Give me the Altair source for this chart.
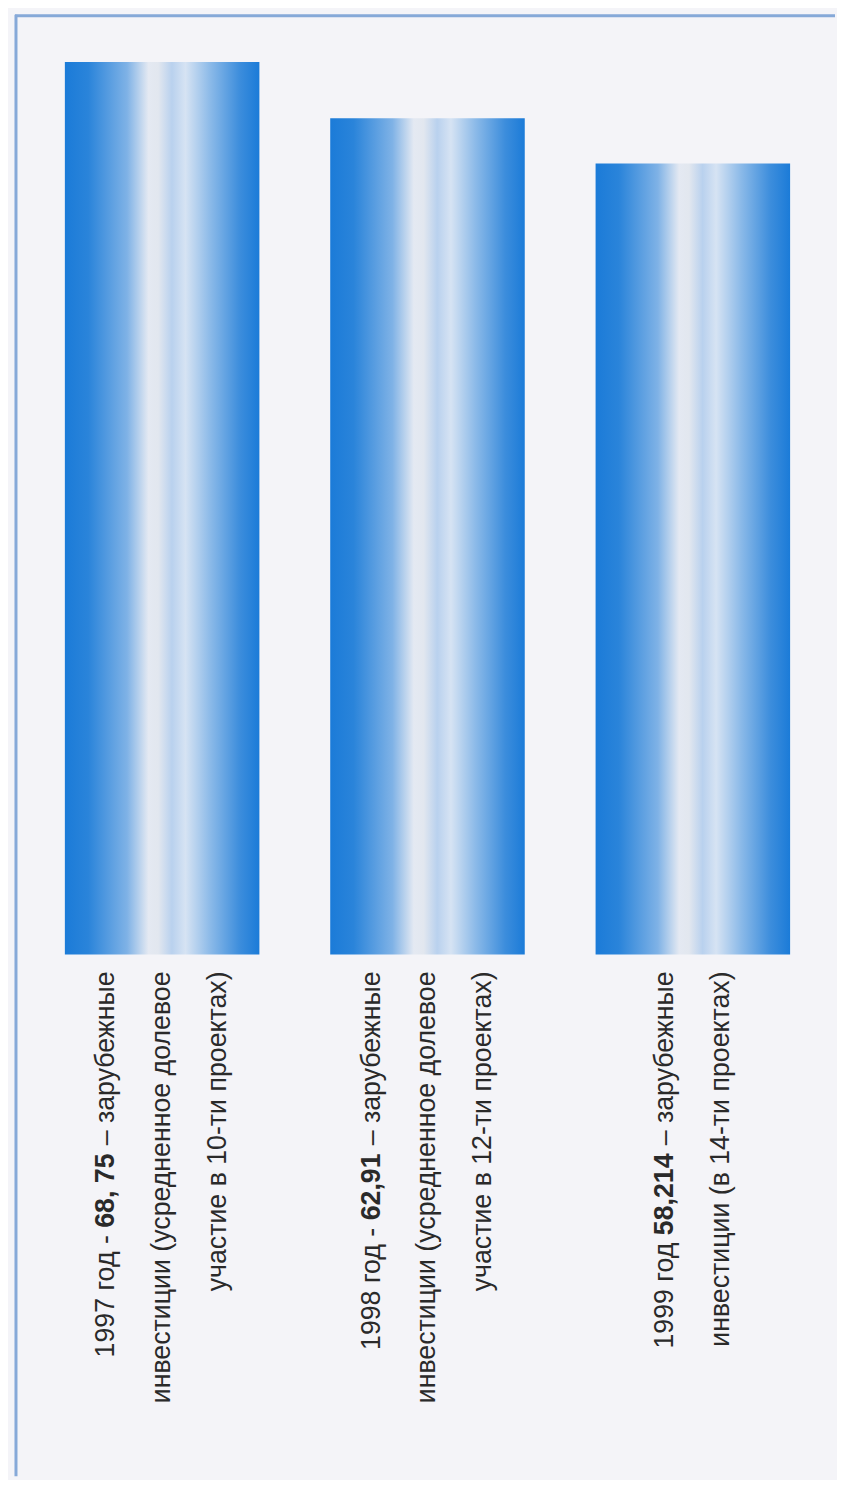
import altair as alt
import pandas as pd

# ---- data ----
years = ["1997", "1998", "1999"]
values = [68.75, 62.91, 58.214]
value_labels = ["68, 75", "62,91", "58,214"]
line1_prefix = ["1997 год -", "1998 год -", "1999 год"]
line1_suffix = ["– зарубежные", "– зарубежные", "– зарубежные"]
rest_lines = [
    ["инвестиции (усредненное долевое", "участие в 10-ти проектах)"],
    ["инвестиции (усредненное долевое", "участие в 12-ти проектах)"],
    ["инвестиции (в 14-ти проектах)"],
]

# ---- style ----
FONT = "Liberation Sans"
FS = 26.8
TEXT_COLOR = "#2a2a2a"
FRAME = "#86a9d8"
BG = "#f4f4f8"
W_TOTAL, H_TOTAL = 829, 1470
TEXT_TOP = 964
BAR_W = 195

# approximate Arial advance widths (1/1000 em)
ADV = {" ": 278, ",": 278, "-": 333, "–": 556, "(": 333, ")": 333,
       "а": 556, "б": 573, "в": 531, "г": 365, "д": 583, "е": 556, "ж": 669,
       "з": 458, "и": 559, "й": 559, "к": 438, "л": 583, "м": 688, "н": 552,
       "о": 556, "п": 542, "р": 556, "с": 500, "т": 458, "у": 500, "ф": 823,
       "х": 500, "ц": 573, "ч": 521, "ш": 802, "щ": 823, "ы": 719, "ь": 521}


def text_width(s):
    return sum(ADV.get(c, 556) for c in s) / 1000.0 * FS


SPACE = text_width(" ")

bars_df = pd.DataFrame({"year": years, "value": values})

rows = []
for i, y in enumerate(years):
    n = 1 + len(rest_lines[i])
    pos = [k - (n - 1) / 2 for k in range(n)]
    w_suf = text_width(line1_suffix[i]) + SPACE
    w_num = text_width(value_labels[i]) + SPACE
    rows.append(dict(year=y, line=pos[0], along=0, text=line1_suffix[i], bold=0))
    rows.append(dict(year=y, line=pos[0], along=w_suf, text=value_labels[i], bold=1))
    rows.append(dict(year=y, line=pos[0], along=w_suf + w_num, text=line1_prefix[i], bold=0))
    for k, t in enumerate(rest_lines[i]):
        rows.append(dict(year=y, line=pos[k + 1], along=0, text=t, bold=0))
text_df = pd.DataFrame(rows)
text_df["ypx"] = TEXT_TOP + text_df["along"]

xscale = alt.Scale(domain=years, range=[21.5, 819.5], paddingInner=0.267, paddingOuter=0.1335)
yscale = alt.Scale(domain=[-24, 70], range=[947, 40.3], zero=False, nice=False)
offscale = alt.Scale(domain=[-1, 1], range=[41.5, 153.5])

grad = alt.Gradient(
    gradient="linear", x1=0, x2=1, y1=0, y2=0,
    stops=[
        alt.GradientStop(offset=0.0, color="#1b7bd8"),
        alt.GradientStop(offset=0.12, color="#2a84da"),
        alt.GradientStop(offset=0.32, color="#7fb2e6"),
        alt.GradientStop(offset=0.43, color="#e4e9f2"),
        alt.GradientStop(offset=0.48, color="#e2e7ef"),
        alt.GradientStop(offset=0.55, color="#b9d1ee"),
        alt.GradientStop(offset=0.62, color="#d6e3f3"),
        alt.GradientStop(offset=0.75, color="#8ab9e8"),
        alt.GradientStop(offset=0.9, color="#3c8ddc"),
        alt.GradientStop(offset=1.0, color="#1b7bd8"),
    ],
)

bars = alt.Chart(bars_df).mark_bar(color=grad, width=BAR_W).encode(
    x=alt.X("year:N", scale=xscale, axis=None),
    y=alt.Y("value:Q", scale=yscale, axis=None),
    y2=alt.datum(-24),
)

base_text = alt.Chart(text_df)
enc = dict(
    x=alt.X("year:N", scale=xscale, axis=None),
    xOffset=alt.XOffset("line:Q", scale=offscale),
    y=alt.Y("ypx:Q", scale=None, axis=None),
    text="text:N",
)
txt_normal = base_text.transform_filter("datum.bold == 0").mark_text(
    angle=270, align="right", baseline="middle", font=FONT, fontSize=FS, color=TEXT_COLOR
).encode(**enc)
txt_bold = base_text.transform_filter("datum.bold == 1").mark_text(
    angle=270, align="right", baseline="middle", font=FONT, fontSize=FS, fontWeight="bold", color=TEXT_COLOR
).encode(**enc)

one = pd.DataFrame({"k": [0]})
frame_top = alt.Chart(one).mark_rule(color=FRAME, strokeWidth=3).encode(
    x=alt.value(7), x2=alt.value(W_TOTAL), y=alt.value(6)
)
frame_left = alt.Chart(one).mark_rule(color=FRAME, strokeWidth=3).encode(
    x=alt.value(8), y=alt.value(5), y2=alt.value(H_TOTAL)
)

chart = alt.layer(frame_top, frame_left, bars, txt_normal, txt_bold).resolve_scale(
    y="independent"
).properties(
    width=W_TOTAL, height=H_TOTAL, padding=0, background=BG
).configure_view(stroke=None)

chart.save("out.html", embed_options={"renderer": "svg", "actions": False})
